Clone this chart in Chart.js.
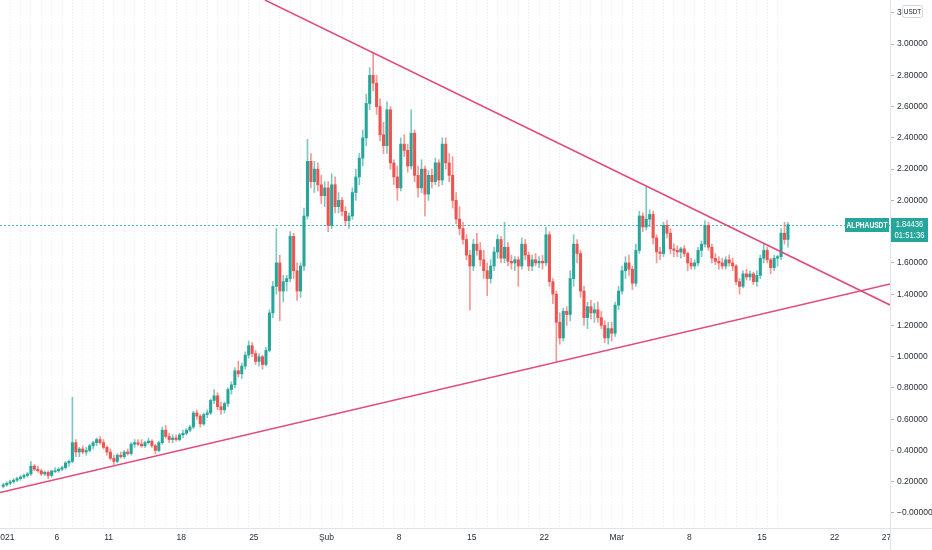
<!DOCTYPE html>
<html><head><meta charset="utf-8">
<script src="https://cdn.jsdelivr.net/npm/chart.js@4/dist/chart.umd.min.js"></script>
<style>html,body{margin:0;padding:0;background:#fff;overflow:hidden}canvas{display:block}</style>
</head><body>
<canvas id="c" width="932" height="550"></canvas>
<script>
// ---- data (8h candles, time in days since 2021-01-01 00:00) ----
const symbol = 'ALPHAUSDT';
const currency = 'USDT';
const lastPrice = 1.84436;
const countdown = '01:51:36';
const firstCandleDay = -1/3;   // 2020-12-31 16:00
const candleDays = 1/3;        // 8 hours

const opens = [0.17,
0.18,0.19,0.20, 0.21,0.22,0.23, 0.24,0.25,0.30, 0.28,0.27,0.25, 0.26,0.24,0.27,
0.27,0.28,0.29, 0.32,0.33,0.45, 0.39,0.41,0.39, 0.40,0.43,0.45, 0.47,0.45,0.42,
0.39,0.35,0.33, 0.37,0.36,0.39, 0.38,0.44,0.45, 0.44,0.43,0.45, 0.46,0.43,0.40,
0.45,0.53,0.49, 0.47,0.48,0.47, 0.50,0.51,0.53, 0.55,0.64,0.62, 0.57,0.63,0.64,
0.72,0.75,0.68, 0.66,0.70,0.79, 0.82,0.91,0.89, 0.94,1.01,1.07, 1.02,0.97,1.00,
0.95,1.04,1.28, 1.45,1.60,1.42, 1.48,1.50,1.77, 1.55,1.42,1.58, 1.90,2.25,2.12,
2.20,2.10,2.03, 2.08,1.84,2.10, 1.96,2.00,1.93, 1.87,1.90,2.05, 2.15,2.27,2.40,
2.62,2.80,2.75, 2.60,2.42,2.35, 2.58,2.24,2.15, 2.08,2.36,2.32, 2.22,2.43,2.16,
2.08,2.20,2.04, 2.16,2.12,2.24, 2.13,2.36,2.24, 2.16,2.00,1.88, 1.82,1.75,1.65,
1.58,1.72,1.68, 1.62,1.55,1.50, 1.58,1.67,1.75, 1.63,1.70,1.61, 1.60,1.62,1.58,
1.72,1.65,1.58, 1.62,1.60,1.61, 1.60,1.78,1.48, 1.40,1.22,1.12, 1.29,1.27,1.50,
1.72,1.66,1.42, 1.25,1.32,1.28, 1.30,1.25,1.20, 1.12,1.18,1.15, 1.33,1.42,1.55,
1.60,1.56,1.47, 1.68,1.90,1.83, 1.88,1.91,1.76, 1.67,1.66,1.84, 1.79,1.69,1.68,
1.67,1.69,1.66, 1.60,1.58,1.60, 1.68,1.72,1.84, 1.70,1.63,1.61, 1.60,1.58,1.62,
1.60,1.58,1.48, 1.45,1.53,1.51, 1.53,1.48,1.52, 1.63,1.68,1.62, 1.57,1.63,1.64,
1.79,1.75];
const highs = [0.19,
0.20,0.21,0.22, 0.23,0.24,0.25, 0.26,0.33,0.31, 0.30,0.28,0.27, 0.27,0.27,0.29,
0.29,0.30,0.33, 0.34,0.74,0.47, 0.42,0.43,0.42, 0.44,0.46,0.48, 0.49,0.47,0.43,
0.41,0.37,0.38, 0.39,0.40,0.41, 0.45,0.47,0.47, 0.47,0.46,0.48, 0.47,0.44,0.46,
0.55,0.56,0.51, 0.50,0.50,0.51, 0.53,0.54,0.56, 0.65,0.66,0.63, 0.64,0.66,0.73,
0.79,0.77,0.71, 0.71,0.80,0.84, 0.93,0.97,0.96, 1.03,1.10,1.09, 1.04,1.02,1.01,
1.06,1.30,1.48, 1.82,1.65,1.52, 1.52,1.80,1.79, 1.60,1.60,1.95, 2.39,2.30,2.25,
2.24,2.16,2.12, 2.12,2.17,2.15, 2.05,2.02,1.96, 1.92,2.08,2.20, 2.30,2.45,2.68,
2.85,2.94,2.80, 2.65,2.50,2.63, 2.60,2.26,2.22, 2.40,2.42,2.36, 2.58,2.45,2.22,
2.26,2.22,2.19, 2.20,2.27,2.26, 2.40,2.40,2.30, 2.28,2.05,1.96, 1.86,1.78,1.68,
1.75,1.79,1.73, 1.68,1.60,1.62, 1.70,1.78,1.77, 1.86,1.73,1.65, 1.64,1.64,1.76,
1.75,1.67,1.65, 1.66,1.64,1.65, 1.83,1.80,1.50, 1.42,1.28,1.31, 1.32,1.55,1.78,
1.75,1.68,1.45, 1.35,1.36,1.34, 1.35,1.29,1.23, 1.22,1.22,1.35, 1.45,1.58,1.64,
1.65,1.58,1.72, 1.93,1.92,2.09, 1.94,1.93,1.78, 1.70,1.86,1.87, 1.82,1.72,1.71,
1.70,1.71,1.67, 1.63,1.62,1.70, 1.74,1.87,1.86, 1.72,1.66,1.64, 1.63,1.64,1.65,
1.63,1.59,1.50, 1.55,1.56,1.55, 1.54,1.55,1.65, 1.72,1.70,1.63, 1.65,1.65,1.82,
1.86,1.86];
const lows = [0.16,
0.17,0.18,0.19, 0.20,0.21,0.22, 0.23,0.24,0.27, 0.26,0.24,0.24, 0.22,0.23,0.26,
0.26,0.27,0.28, 0.30,0.32,0.36, 0.36,0.38,0.37, 0.39,0.41,0.43, 0.44,0.41,0.37,
0.34,0.31,0.32, 0.35,0.35,0.37, 0.37,0.42,0.43, 0.42,0.42,0.44, 0.42,0.38,0.39,
0.44,0.48,0.45, 0.45,0.46,0.46, 0.48,0.50,0.52, 0.54,0.60,0.55, 0.56,0.61,0.63,
0.70,0.66,0.63, 0.64,0.68,0.76, 0.80,0.87,0.86, 0.92,0.99,1.00, 0.95,0.94,0.92,
0.94,1.03,1.25, 1.40,1.23,1.35, 1.42,1.48,1.50, 1.36,1.38,1.55, 1.88,2.08,2.05,
2.06,1.98,1.96, 1.80,1.82,1.92, 1.92,1.90,1.84, 1.82,1.88,2.00, 2.10,2.22,2.35,
2.58,2.70,2.55, 2.38,2.30,2.30, 2.20,2.10,2.00, 2.06,2.28,2.18, 2.20,2.12,2.02,
2.05,1.90,2.00, 2.08,2.10,2.09, 2.10,2.20,2.12, 1.95,1.85,1.78, 1.72,1.62,1.30,
1.55,1.65,1.58, 1.50,1.39,1.47, 1.55,1.63,1.60, 1.60,1.58,1.56, 1.55,1.45,1.56,
1.62,1.55,1.55, 1.58,1.57,1.56, 1.58,1.45,1.34, 0.97,1.08,1.10, 1.20,1.23,1.45,
1.60,1.38,1.20, 1.18,1.24,1.22, 1.22,1.18,1.09, 1.08,1.10,1.13, 1.30,1.40,1.50,
1.52,1.43,1.45, 1.66,1.80,1.81, 1.83,1.72,1.60, 1.62,1.64,1.76, 1.66,1.64,1.64,
1.63,1.64,1.55, 1.56,1.56,1.58, 1.64,1.70,1.68, 1.60,1.59,1.56, 1.56,1.56,1.58,
1.55,1.46,1.40, 1.44,1.49,1.49, 1.46,1.45,1.50, 1.60,1.60,1.53, 1.55,1.58,1.62,
1.72,1.70];
const closes = [0.18,
0.19,0.20,0.21, 0.22,0.23,0.24, 0.25,0.30,0.28, 0.27,0.25,0.26, 0.24,0.27,0.27,
0.28,0.29,0.32, 0.33,0.45,0.39, 0.41,0.39,0.40, 0.43,0.45,0.47, 0.45,0.42,0.39,
0.35,0.33,0.37, 0.36,0.39,0.38, 0.44,0.45,0.44, 0.43,0.45,0.46, 0.43,0.40,0.45,
0.53,0.49,0.47, 0.48,0.47,0.50, 0.51,0.53,0.55, 0.64,0.62,0.57, 0.63,0.64,0.72,
0.75,0.68,0.66, 0.70,0.79,0.82, 0.91,0.89,0.94, 1.01,1.07,1.02, 0.97,1.00,0.95,
1.04,1.28,1.45, 1.60,1.42,1.48, 1.50,1.77,1.55, 1.42,1.58,1.90, 2.25,2.12,2.20,
2.10,2.03,2.08, 1.84,2.10,1.96, 2.00,1.93,1.87, 1.90,2.05,2.15, 2.27,2.40,2.62,
2.80,2.75,2.60, 2.42,2.35,2.58, 2.24,2.15,2.08, 2.36,2.32,2.22, 2.43,2.16,2.08,
2.20,2.04,2.16, 2.12,2.24,2.13, 2.36,2.24,2.16, 2.00,1.88,1.82, 1.75,1.65,1.58,
1.72,1.68,1.62, 1.55,1.50,1.58, 1.67,1.75,1.63, 1.70,1.61,1.60, 1.62,1.58,1.72,
1.65,1.58,1.62, 1.60,1.61,1.60, 1.78,1.48,1.40, 1.22,1.12,1.29, 1.27,1.50,1.72,
1.66,1.42,1.25, 1.32,1.28,1.30, 1.25,1.20,1.12, 1.18,1.15,1.33, 1.42,1.55,1.60,
1.56,1.47,1.68, 1.90,1.83,1.88, 1.91,1.76,1.67, 1.66,1.84,1.79, 1.69,1.68,1.67,
1.69,1.66,1.60, 1.58,1.60,1.68, 1.72,1.84,1.70, 1.63,1.61,1.60, 1.58,1.62,1.60,
1.58,1.48,1.45, 1.53,1.51,1.53, 1.48,1.52,1.63, 1.68,1.62,1.57, 1.63,1.64,1.79,
1.75,1.84436];

// x-axis labels (days since 2021-01-01)
const xTickDays   = [0, 5, 10, 17, 24, 31, 38, 45, 52, 59, 66, 73, 80, 85];
const xTickLabels = ['2021','6','11','18','25','Şub','8','15','22','Mar','8','15','22','27'];
const gridLastDay = 75;
// y-axis ticks
const yTicks = [0,0.2,0.4,0.6,0.8,1.0,1.2,1.4,1.6,1.8,2.0,2.2,2.4,2.6,2.8,3.0,3.2];
const yShown = [0,0.2,0.4,0.6,0.8,1.0,1.2,1.4,1.6,2.0,2.2,2.4,2.6,2.8,3.0,3.2];
// trend lines (drawn by hand on the chart): [day, price] endpoints
const upperTrendDays = [25.07, 85.34];
const upperTrendValues = [3.282, 1.331];
const lowerTrendDays = [-0.48, 85.34];
const lowerTrendValues = [0.1305, 1.4645];

// ---- build ----
const UP = '#26a69a', DOWN = '#ef5350';
const UP_W = 'rgba(38,166,154,0.6)', DOWN_W = 'rgba(239,83,80,0.6)';
const n = Math.min(opens.length, highs.length, lows.length, closes.length);
const t = i => firstCandleDay + i*candleDays + candleDays/2;
const isUp = i => closes[i] >= opens[i];
const wickData = [], bodyData = [], wickCol = [], bodyCol = [];
for (let i = 0; i < n; i++) {
  wickData.push({x: t(i), y: [lows[i], highs[i]]});
  bodyData.push({x: t(i), y: [opens[i], closes[i]]});
  wickCol.push(isUp(i) ? UP_W : DOWN_W);
  bodyCol.push(isUp(i) ? UP : DOWN);
}
const X_MIN = -0.48, X_MAX = 85.34, Y_MIN = -0.096, Y_MAX = 3.282;
const TREND = '#e14b7c';
const FONT = "'Liberation Sans',Arial,sans-serif";

function narrowText(ctx, text, x, y, sx) {
  ctx.save(); ctx.translate(x, y); ctx.scale(sx, 1); ctx.fillText(text, 0, 0); ctx.restore();
}

const overlay = {
  id: 'overlay',
  beforeDatasetsDraw(chart) {
    const {ctx, chartArea: a, scales: {y}} = chart;
    const py = Math.round(y.getPixelForValue(lastPrice)) + 0.5;
    ctx.save();
    ctx.strokeStyle = 'rgba(38,166,154,0.8)'; ctx.lineWidth = 1; ctx.setLineDash([2, 2]);
    ctx.beginPath(); ctx.moveTo(a.left, py); ctx.lineTo(a.right, py); ctx.stroke();
    ctx.restore();
  },
  afterDraw(chart) {
    const {ctx, chartArea: a, scales: {y}, width, height} = chart;
    ctx.save();
    // axis borders
    ctx.strokeStyle = '#e0e3eb'; ctx.lineWidth = 1;
    ctx.beginPath();
    ctx.moveTo(Math.round(a.right) + 0.5, 0); ctx.lineTo(Math.round(a.right) + 0.5, height);
    ctx.moveTo(0, Math.round(a.bottom) + 0.5); ctx.lineTo(width, Math.round(a.bottom) + 0.5);
    ctx.stroke();
    // price labels
    const py = y.getPixelForValue(lastPrice);
    const top = Math.round(py) - 7;
    ctx.fillStyle = UP;
    ctx.fillRect(a.right - 45, top, 44, 14);
    ctx.fillRect(a.right + 1, top, 37, 24);
    ctx.fillStyle = '#ffffff';
    ctx.textBaseline = 'middle';
    ctx.textAlign = 'center';
    ctx.font = "bold 8.5px " + FONT;
    narrowText(ctx, symbol, a.right - 23, top + 7.5, 0.78);
    ctx.font = "8.5px " + FONT;
    narrowText(ctx, lastPrice.toFixed(5), a.right + 19.5, top + 7, 0.9);
    narrowText(ctx, countdown, a.right + 19.5, top + 18, 0.9);
    // currency box (covers most of the 3.2 label, as in the original)
    ctx.fillStyle = '#ffffff';
    ctx.fillRect(902, 4, 30, 16);
    ctx.strokeStyle = '#d1d4dc';
    ctx.beginPath();
    if (ctx.roundRect) ctx.roundRect(902.5, 5.5, 20, 12, 2); else ctx.rect(902.5, 5.5, 20, 12);
    ctx.fill(); ctx.stroke();
    ctx.fillStyle = '#131722';
    ctx.font = "7.5px " + FONT;
    narrowText(ctx, currency, 912.5, 12, 0.85);
    ctx.restore();
  }
};

new Chart(document.getElementById('c'), {
  type: 'bar',
  data: {
    datasets: [
      {type: 'line', data: [{x: upperTrendDays[0], y: upperTrendValues[0]}, {x: upperTrendDays[1], y: upperTrendValues[1]}],
       borderColor: TREND, borderWidth: 1.5, pointRadius: 0, order: 1},
      {type: 'line', data: [{x: lowerTrendDays[0], y: lowerTrendValues[0]}, {x: lowerTrendDays[1], y: lowerTrendValues[1]}],
       borderColor: TREND, borderWidth: 1.5, pointRadius: 0, order: 1},
      {data: bodyData, backgroundColor: bodyCol, barThickness: 2.4, grouped: false, minBarLength: 1, order: 2},
      {data: wickData, backgroundColor: wickCol, barThickness: 1, grouped: false, order: 3}
    ]
  },
  options: {
    responsive: false, animation: false, devicePixelRatio: 1,
    layout: {padding: 0},
    plugins: {legend: {display: false}, tooltip: {enabled: false}},
    scales: {
      x: {
        type: 'linear', min: X_MIN, max: X_MAX, offset: false,
        afterBuildTicks: s => { const tk = []; for (let d = 0; d <= Math.floor(X_MAX); d++) tk.push({value: d}); s.ticks = tk; },
        afterFit: s => { s.height = 22; s.paddingLeft = 0; s.paddingRight = 0; },
        grid: {drawTicks: false, lineWidth: 1,
               color: c => (c.tick && c.tick.value <= gridLastDay) ? '#e8eaee' : 'rgba(0,0,0,0)'},
        border: {display: false, dash: [1, 2]},
        ticks: {autoSkip: false, maxRotation: 0, padding: 5, color: '#2a2e39',
                font: {size: 8.5, family: FONT},
                callback: v => { const i = xTickDays.indexOf(v); return i >= 0 ? xTickLabels[i] : ''; }}
      },
      y: {
        position: 'right', min: Y_MIN, max: Y_MAX,
        afterBuildTicks: s => { s.ticks = yTicks.map(v => ({value: v})); },
        afterFit: s => { s.width = 42; s.paddingTop = 0; s.paddingBottom = 0; },
        grid: {drawOnChartArea: false, drawTicks: true, tickLength: 4, tickColor: '#b2b5be'},
        border: {display: false},
        ticks: {padding: 3, color: '#2a2e39', font: {size: 8.5, family: FONT},
                callback: v => { if (!yShown.some(s => Math.abs(s - v) < 1e-9)) return ''; return Math.abs(v) < 1e-9 ? '\u22120.00000' : v.toFixed(5); }}
      }
    }
  },
  plugins: [overlay]
});
</script>
</body></html>
